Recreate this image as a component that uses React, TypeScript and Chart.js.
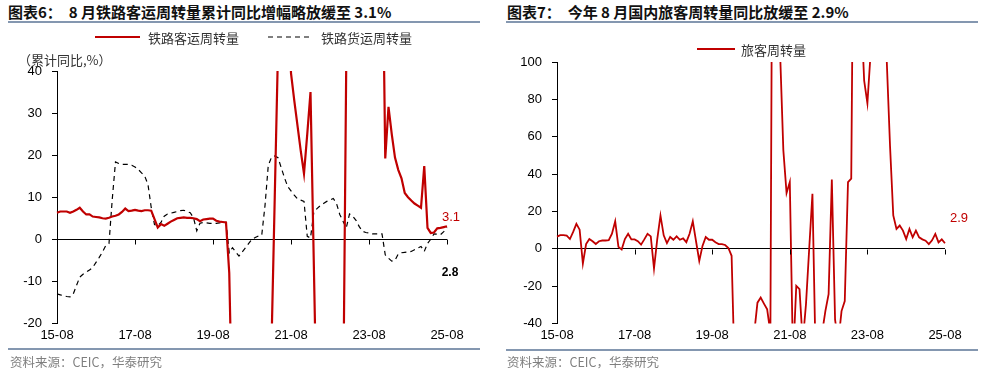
import React, { useEffect, useRef } from 'react';
import { Chart, registerables } from 'chart.js';

Chart.register(...registerables);

// ---------- data ----------
const START_YEAR = 2015;
const START_MONTH = 8;
const MONTH_COUNT = 121;

function buildMonths(): string[] {
  const out: string[] = [];
  for (let i = 0; i < MONTH_COUNT; i++) {
    const t = START_MONTH - 1 + i;
    const yy = (START_YEAR + Math.floor(t / 12)) % 100;
    const mm = (t % 12) + 1;
    out.push(String(yy).padStart(2, '0') + '-' + String(mm).padStart(2, '0'));
  }
  return out;
}
const months = buildMonths();

const xTickLabels = ['15-08', '17-08', '19-08', '21-08', '23-08', '25-08'];

// 铁路客运周转量 累计同比 (%)
const railPassenger = [
  6.3, 6.6, 6.6, 6.6, 6.3, 6.6, 7.0, 7.5, 6.6, 5.9, 5.9, 5.4, 5.3, 5.2, 5.0, 4.9,
  5.1, 5.4, 5.6, 5.9, 6.5, 7.3, 6.7, 6.8, 7.0, 6.8, 6.7, 6.9, 6.9, 6.8, 4.8, 2.8,
  3.6, 3.2, 3.7, 4.2, 4.6, 5.0, 5.1, 5.2, 5.1, 5.1, 5.0, 4.8, 4.3, 4.7, 4.8, 4.9,
  4.9, 4.4, 4.2, 4.1, 4.0, -8, -45, -55, -50, -45, -42, -40, -38, -37, -36, -35,
  -34, -33, -25, 10, 45, 90, 85, 60, 39.5, 33, 27, 21, 15.6, 25, 35, -5,
  -45, -40, -38, -36, -35, -34, -36, -40, -45, 42, 90, 100, 105, 110, 110, 108,
  106, 104, 100, 95, 80, 19.2, 31.5, 25, 19.4, 16.5, 14.5, 11, 10, 9.2, 8.5, 8.0,
  7.5, 17.4, 2.7, 1.5, 1.6, 2.6, 2.7, 2.9, 3.1,
];

// 铁路货运周转量 累计同比 (%)
const railFreight = [
  -13.0, -13.2, -13.4, -13.6, -13.7, -13.0, -11.0, -9.0, -8.3, -7.8, -7.3, -6.7, -5.5, -4.3, -3.0, -1.5,
  -1.0, 9.5, 18.4, 18.0, 17.8, 17.8, 17.8, 17.6, 17.2, 16.6, 15.8, 15.0, 13.0, 7.5, 3.5, 3.2,
  4.0, 5.5, 6.0, 6.2, 6.4, 6.6, 6.8, 6.9, 6.6, 6.3, 5.1, 2.0, 3.8, 4.0, 3.9, 3.8,
  3.8, 3.8, 3.9, 4.0, 4.0, -3.2, -2.0, -3.0, -4.0, -3.0, -2.0, -1.0, 0.0, 0.4, 0.8, 1.0,
  8.0, 17.5, 19.5, 19.8, 19.4, 17.0, 14.6, 12.5, 11.5, 10.5, 9.6, 9.3, 9.0, 0.7, 0.3, 6.3,
  7.3, 8.0, 8.5, 9.0, 9.3, 9.7, 8.5, 5.9, 4.3, 2.7, 6.0, 5.5, 4.5, 3.0, 1.9, 1.6,
  1.5, 1.3, 1.3, 1.3, 1.3, -3.7, -4.5, -5.2, -5.0, -3.5, -3.2, -3.1, -3.0, -2.9, -2.5, -2.1,
  -1.7, -2.9, -1.0, 0.0, 1.3, 1.2, 1.1, 1.8, 2.8,
];

// 旅客周转量 同比 (%)
const passengerTurnover = [
  6.5, 7.3, 7.3, 7.0, 5.2, 9.0, 13.3, 10.2, -7.9, 2.5, 5.2, 4.0, 2.5, 4.0, 4.4, 4.4,
  4.6, 8.0, 14.7, 1.0, -0.4, 5.2, 8.0, 5.0, 5.0, 4.0, 2.2, 5.0, 8.0, 6.6, -10.6, 5.0,
  17.8, 7.2, 3.0, 6.3, 4.8, 6.6, 4.8, 5.5, 3.5, 8.0, 14.7, 4.0, -6.5, 1.5, 6.3, 4.8,
  4.8, 3.5, 2.5, 2.5, 2.0, 0.4, -3.8, -70, -65, -60, -55, -50, -47, -45, -28.9, -26.2,
  -29.4, -32.5, -45, 350, 250, 105, 52.8, 29.8, 35.7, -60, -19.9, -21.7, -50, -29.8, 0, 29.4,
  -60, -55, -45, -33.4, -24.4, 37, -38, -50, -33.4, -28, 35.7, 37.5, 250, 150, 130, 90,
  77.9, 105, 130, 150, 160, 140, 100, 55, 17.8, 10.6, 12.4, 9.7, 5.2, 10.6, 6.1, 9.7,
  6.1, 5.0, 4.3, 2.5, 4.5, 7.9, 3.4, 5.0, 2.9,
];

const RED = '#C00000';
const TICK_FONT = { family: '"Liberation Sans", Arial, sans-serif', size: 13 };
const CJK = '"Noto Sans CJK SC", "Noto Sans", sans-serif';

// ---------- plugin: zero-line ticks, legend, unit, end labels ----------
const decorPlugin = {
  id: 'decor',
  afterDraw(chart: any, _args: any, opts: any) {
    const ctx = chart.ctx;
    const xs = chart.scales.x;
    const ys = chart.scales.y;
    const y0 = Math.round(ys.getPixelForValue(0)) + 0.5;
    ctx.save();
    // tick marks on the zero line
    ctx.strokeStyle = '#000';
    ctx.lineWidth = 1;
    xs.ticks.forEach((t: any, i: number) => {
      if (!t.label) return;
      const px = Math.round(xs.getPixelForTick(i)) + 0.5;
      ctx.beginPath();
      ctx.moveTo(px, y0);
      ctx.lineTo(px, y0 + 5);
      ctx.stroke();
    });
    // legend
    const lg = opts.legend;
    if (lg) {
      let cx = lg.x;
      chart.data.datasets.forEach((ds: any) => {
        ctx.beginPath();
        ctx.setLineDash(ds.borderDash || []);
        ctx.strokeStyle = ds.borderColor;
        ctx.lineWidth = ds.borderWidth;
        ctx.moveTo(cx, lg.y);
        ctx.lineTo(cx + lg.sample, lg.y);
        ctx.stroke();
        ctx.setLineDash([]);
        ctx.font = lg.font;
        ctx.fillStyle = lg.color;
        ctx.textAlign = 'left';
        ctx.textBaseline = 'middle';
        ctx.fillText(ds.label, cx + lg.sample + lg.gap, lg.y + 1);
        cx += lg.sample + lg.gap + ctx.measureText(ds.label).width + lg.itemGap;
      });
    }
    // unit label
    if (opts.unit) {
      ctx.font = opts.unit.font;
      ctx.fillStyle = opts.unit.color;
      ctx.textAlign = 'left';
      ctx.textBaseline = 'middle';
      ctx.fillText(opts.unit.text, opts.unit.x, opts.unit.y);
    }
    // end-of-series value labels
    (opts.endLabels || []).forEach((l: any) => {
      const meta = chart.getDatasetMeta(l.dataset);
      const pts = meta.data;
      const p = pts[pts.length - 1];
      const data = chart.data.datasets[l.dataset].data;
      const v = data[data.length - 1];
      ctx.font = l.font;
      ctx.fillStyle = l.color;
      ctx.textAlign = 'center';
      ctx.textBaseline = 'middle';
      ctx.fillText(Number(v).toFixed(1), p.x + l.dx, p.y + l.dy);
    });
    ctx.restore();
  },
};

function yAxis(min: number, max: number, step: number, width: number) {
  return {
    min,
    max,
    ticks: { stepSize: step, padding: 10, font: TICK_FONT, color: '#000' },
    grid: {
      color: (c: any) => (c.tick && c.tick.value === 0 ? '#000' : 'rgba(0,0,0,0)'),
      tickColor: '#000',
      tickLength: 5,
      lineWidth: 1,
    },
    border: { color: '#000', width: 1 },
    afterFit(s: any) {
      s.width = width;
    },
  };
}

function xAxis() {
  return {
    type: 'category' as const,
    grid: { display: false, drawTicks: false, tickLength: 0 },
    border: { display: false },
    ticks: {
      autoSkip: false,
      maxRotation: 0,
      minRotation: 0,
      padding: 4,
      font: TICK_FONT,
      color: '#000',
      callback(this: any, v: any) {
        const lab = this.getLabelForValue(v);
        return xTickLabels.includes(lab) ? lab : '';
      },
    },
  };
}

function LeftChart() {
  const ref = useRef<HTMLCanvasElement>(null);
  useEffect(() => {
    const chart = new Chart(ref.current as HTMLCanvasElement, {
      type: 'line',
      data: {
        labels: months,
        datasets: [
          {
            label: '铁路客运周转量',
            data: railPassenger,
            borderColor: RED,
            borderWidth: 2.2,
            pointRadius: 0,
            tension: 0,
          },
          {
            label: '铁路货运周转量',
            data: railFreight,
            borderColor: '#000',
            borderWidth: 1.2,
            borderDash: [5, 4],
            pointRadius: 0,
            tension: 0,
          },
        ],
      },
      options: {
        responsive: false,
        animation: false,
        layout: { padding: { top: 46, bottom: 2, left: 0, right: 43 } },
        plugins: {
          legend: { display: false },
          tooltip: { enabled: false },
          decor: {
            legend: { x: 95, y: 12, sample: 45, gap: 8, itemGap: 29, font: '13px ' + CJK, color: '#333' },
            unit: { text: '（累计同比,%）', x: 18, y: 35, font: '13px ' + CJK, color: '#333' },
            endLabels: [
              { dataset: 0, dx: 4, dy: -8.5, color: RED, font: '13px "Liberation Sans", Arial' },
              { dataset: 1, dx: 3, dy: 45, color: '#000', font: 'bold 12px "Liberation Sans", Arial' },
            ],
          },
        } as any,
        scales: { x: xAxis(), y: yAxis(-20, 40, 10, 57) } as any,
      },
      plugins: [decorPlugin],
    });
    return () => chart.destroy();
  }, []);
  return <canvas ref={ref} width={490} height={324} style={{ display: 'block' }} />;
}

function RightChart() {
  const ref = useRef<HTMLCanvasElement>(null);
  useEffect(() => {
    const chart = new Chart(ref.current as HTMLCanvasElement, {
      type: 'line',
      data: {
        labels: months,
        datasets: [
          {
            label: '旅客周转量',
            data: passengerTurnover,
            borderColor: RED,
            borderWidth: 1.8,
            pointRadius: 0,
            tension: 0,
          },
        ],
      },
      options: {
        responsive: false,
        animation: false,
        layout: { padding: { top: 37, bottom: 2, left: 0, right: 41 } },
        plugins: {
          legend: { display: false },
          tooltip: { enabled: false },
          decor: {
            legend: { x: 207, y: 24, sample: 38, gap: 6, itemGap: 20, font: '13px ' + CJK, color: '#333' },
            endLabels: [{ dataset: 0, dx: 14, dy: -24.5, color: RED, font: '13px "Liberation Sans", Arial' }],
          },
        } as any,
        scales: { x: xAxis(), y: yAxis(-40, 100, 20, 67) } as any,
      },
      plugins: [decorPlugin],
    });
    return () => chart.destroy();
  }, []);
  return <canvas ref={ref} width={496} height={324} style={{ display: 'block' }} />;
}

const titleStyle: React.CSSProperties = {
  position: 'absolute',
  top: 3,
  fontSize: 15,
  lineHeight: '18px',
  fontWeight: 700,
  color: '#111',
  whiteSpace: 'pre',
  fontFamily: CJK,
};
const ruleStyle: React.CSSProperties = { position: 'absolute', height: 2, background: '#8497B0' };
const sourceStyle: React.CSSProperties = {
  position: 'absolute',
  top: 354,
  fontSize: 12.5,
  lineHeight: '16px',
  color: '#7f7f7f',
  whiteSpace: 'pre',
  fontFamily: CJK,
};

export default function App() {
  return (
    <div style={{ position: 'absolute', left: 0, top: 0, width: 986, height: 373, background: '#fff', overflow: 'hidden' }}>
      <div style={{ ...titleStyle, left: 8 }}>{'图表6：  8 月铁路客运周转量累计同比增幅略放缓至 3.1%'}</div>
      <div style={{ ...ruleStyle, left: 8, top: 21, width: 472 }} />
      <div style={{ position: 'absolute', left: 0, top: 25 }}>
        <LeftChart />
      </div>
      <div style={{ ...ruleStyle, left: 8, top: 348, width: 472 }} />
      <div style={{ ...sourceStyle, left: 10 }}>{'资料来源：CEIC，华泰研究'}</div>

      <div style={{ ...titleStyle, left: 507 }}>{'图表7：  今年 8 月国内旅客周转量同比放缓至 2.9%'}</div>
      <div style={{ ...ruleStyle, left: 506, top: 21, width: 472 }} />
      <div style={{ position: 'absolute', left: 490, top: 25 }}>
        <RightChart />
      </div>
      <div style={{ ...ruleStyle, left: 506, top: 349, width: 472 }} />
      <div style={{ ...sourceStyle, left: 507 }}>{'资料来源：CEIC，华泰研究'}</div>
    </div>
  );
}
